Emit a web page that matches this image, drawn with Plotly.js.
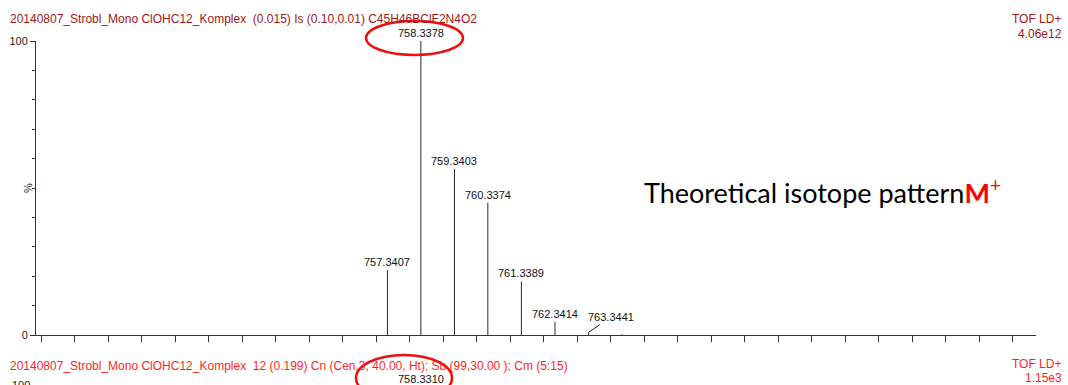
<!DOCTYPE html>
<html>
<head>
<meta charset="utf-8">
<script src="https://cdn.plot.ly/plotly-3.0.1.min.js"></script>
<style>
  html, body { margin: 0; padding: 0; background: #ffffff; }
  #chart { width: 1068px; height: 385px; }
</style>
</head>
<body>
<div id="chart"></div>
<script>
// Isotope peaks (m/z) and relative intensities (%)
const peakMz = [757.3407, 758.3378, 759.3403, 760.3374, 761.3389, 762.3414, 763.3441, 764.345];
const peakIntensity = [22.1, 100, 56.5, 45.0, 18.2, 4.5, 0.9, 0.3];
// Peaks that carry an m/z label (index into the arrays above)
const labelledPeaks = [0, 1, 2, 3, 4, 5, 6];

// Axis settings
const xRange = [746.85, 776.70];
const yTickVals = [0, 100];
const yTickText = ['0', '100'];

// Header texts
const topHeader = '20140807_Strobl_Mono ClOHC12_Komplex  (0.015) Is (0.10,0.01) C45H46BClF2N4O2';
const topMode = 'TOF LD+';
const topScale = '4.06e12';
const bottomHeader = '20140807_Strobl_Mono ClOHC12_Komplex  12 (0.199) Cn (Cen,3, 40.00, Ht); Sb (99,30.00 ); Cm (5:15)';
const bottomMode = 'TOF LD+';
const bottomScale = '1.15e3';
const bottomBasePeak = '758.3310';

// Plot area in page pixels, used to place the free text
const W = 1068, H = 385;
const M = { l: 36, r: 32, t: 41, b: 50 };
const px = x => (x - M.l) / (W - M.l - M.r);
const py = y => (H - M.b - y) / (H - M.t - M.b);

const FONT = 'Liberation Sans, Arial, sans-serif';
const DARK_RED = '#a01818';
const RED = '#ff1f1f';

// Stick spectrum: one vertical segment per peak
const sx = [], sy = [];
peakMz.forEach((m, i) => {
  sx.push(m, m, null);
  sy.push(0, peakIntensity[i], null);
});

const traces = [{
  type: 'scatter',
  mode: 'lines',
  x: sx,
  y: sy,
  line: { color: '#2a2a2a', width: 1 },
  hoverinfo: 'skip',
  connectgaps: false,
  cliponaxis: false
}];

const annotations = [];

// m/z labels above the peaks
labelledPeaks.forEach(i => {
  const isTiny = peakIntensity[i] < 2;
  const a = {
    xref: 'x', yref: 'y',
    x: peakMz[i], y: peakIntensity[i],
    text: peakMz[i].toFixed(4),
    font: { family: FONT, size: 11, color: '#111' },
    showarrow: false,
    xanchor: 'center', yanchor: 'bottom',
    yshift: 0
  };
  if (isTiny) {
    Object.assign(a, {
      showarrow: true, arrowhead: 0, arrowwidth: 1, arrowcolor: '#222',
      ax: 22, ay: -15, standoff: 0, yanchor: 'middle'
    });
  }
  annotations.push(a);
});

function note(text, x, y, xanchor, color, size, extra) {
  annotations.push(Object.assign({
    xref: 'paper', yref: 'paper',
    x: px(x), y: py(y),
    text: text,
    showarrow: false,
    xanchor: xanchor, yanchor: 'middle',
    font: { family: FONT, size: size, color: color }
  }, extra || {}));
}

note(topHeader, 8, 19.5, 'left', DARK_RED, 12);
note(topMode, 1063, 19, 'right', DARK_RED, 12);
note(topScale, 1064, 34, 'right', DARK_RED, 12);
note(bottomHeader, 8, 366, 'left', RED, 12);
note(bottomMode, 1063, 363.5, 'right', RED, 12);
note(bottomScale, 1064, 378, 'right', RED, 12);
note(bottomBasePeak, 421, 379, 'center', '#111', 11);
note('100', 21, 385, 'center', '#222', 11);
note('%', 28, 188, 'center', '#222', 11, { textangle: -90 });
note('Theoretical isotope pattern<span style="color:#ff0000"><b>M</b><sup>+</sup></span>',
     642, 191, 'left', '#000', 27, { font: { family: 'Lato, Noto Sans, sans-serif', size: 27, color: '#000' } });

// Red ellipses around the base peak labels
const shapes = [
  { type: 'circle', xref: 'paper', yref: 'paper',
    x0: px(366), x1: px(463), y0: py(55), y1: py(21),
    line: { color: '#ee1010', width: 2.5 }, fillcolor: 'rgba(0,0,0,0)' },
  { type: 'circle', xref: 'paper', yref: 'paper',
    x0: px(356), x1: px(452), y0: py(401), y1: py(355),
    line: { color: '#ee1010', width: 2.5 }, fillcolor: 'rgba(0,0,0,0)' }
];

const layout = {
  width: W, height: H,
  margin: { l: M.l, r: M.r, t: M.t, b: M.b, pad: 0 },
  paper_bgcolor: '#ffffff',
  plot_bgcolor: '#ffffff',
  showlegend: false,
  xaxis: {
    range: xRange,
    showgrid: false, zeroline: false,
    showline: true, linecolor: '#333', linewidth: 1,
    ticks: 'outside', ticklen: 6, tickcolor: '#333', tickwidth: 1,
    tickmode: 'linear', tick0: 747, dtick: 1,
    showticklabels: false,
    fixedrange: true
  },
  yaxis: {
    range: [0, 100],
    showgrid: false, zeroline: false,
    showline: true, linecolor: '#333', linewidth: 1,
    ticks: 'outside', ticklen: 5, tickcolor: '#333', tickwidth: 1,
    tickmode: 'array', tickvals: yTickVals, ticktext: yTickText,
    tickfont: { family: FONT, size: 11, color: '#222' },
    minor: { tickmode: 'linear', tick0: 0, dtick: 10, ticks: 'outside', ticklen: 3, tickcolor: '#333', showgrid: false },
    fixedrange: true
  },
  annotations: annotations,
  shapes: shapes
};

Plotly.newPlot('chart', traces, layout, { staticPlot: true, displayModeBar: false });
</script>
</body>
</html>
